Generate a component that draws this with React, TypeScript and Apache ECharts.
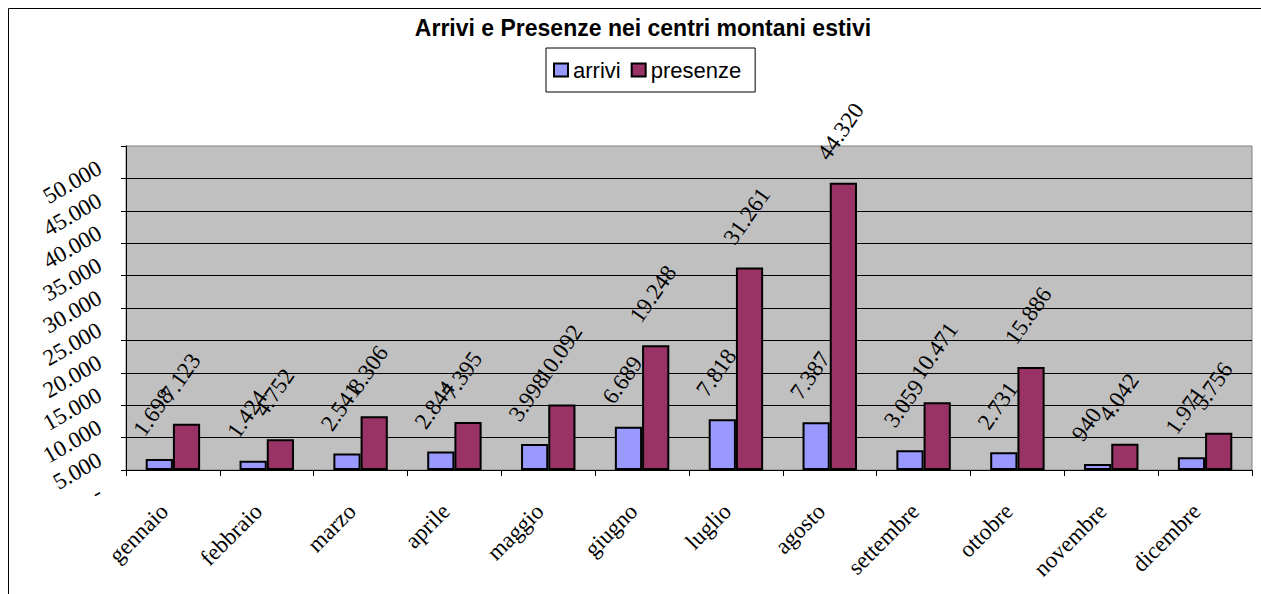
import React, { useEffect, useRef } from 'react';
import * as echarts from 'echarts';

const titleText = 'Arrivi e Presenze nei centri montani estivi';
const categories = ['gennaio', 'febbraio', 'marzo', 'aprile', 'maggio', 'giugno', 'luglio', 'agosto', 'settembre', 'ottobre', 'novembre', 'dicembre'];
const arrivi = [1698, 1424, 2541, 2844, 3998, 6689, 7818, 7387, 3059, 2731, 940, 1971];
const presenze = [7123, 4752, 8306, 7395, 10092, 19248, 31261, 44320, 10471, 15886, 4042, 5756];
const yMin = 0;
const yMax = 50000;
const yStep = 5000;

const fmt = (v: number) =>
  v === 0 ? '-' : String(Math.round(v)).replace(/\B(?=(\d{3})+(?!\d))/g, '.');

const serif = 'Liberation Serif, Times New Roman, serif';
const sans = 'Liberation Sans, Arial, sans-serif';

export default function App() {
  const ref = useRef<HTMLDivElement>(null);
  useEffect(() => {
    if (!ref.current) return;
    const chart = echarts.init(ref.current, undefined, { renderer: 'svg' });
    const labelCfg = {
      show: true,
      position: 'top',
      distance: 10.8,
      rotate: 55,
      align: 'left',
      verticalAlign: 'bottom',
      padding: [0, 0, 14, 0],
      formatter: (p: any) => fmt(p.value),
      fontFamily: serif,
      fontSize: 23,
      color: '#000',
    };
    chart.setOption({
      animation: false,
      backgroundColor: '#fff',
      title: {
        text: titleText,
        left: 643,
        top: 16,
        textAlign: 'center',
        padding: 0,
        textStyle: { fontFamily: sans, fontWeight: 'bold', fontSize: 23, color: '#000' },
      },
      legend: {
        data: ['arrivi', 'presenze'],
        left: 546,
        top: 48,
        orient: 'horizontal',
        padding: [11, 14, 11, 7],
        itemGap: 10,
        itemWidth: 14,
        itemHeight: 13,
        icon: 'rect',
        borderColor: '#000',
        borderWidth: 1,
        backgroundColor: '#fff',
        textStyle: { fontFamily: sans, fontSize: 22, color: '#000' },
      },
      graphic: [
        {
          type: 'rect',
          z: -1,
          silent: true,
          shape: { x: 8.5, y: 8.5, width: 3000, height: 3000 },
          style: { fill: 'none', stroke: '#000', lineWidth: 1 },
        },
      ],
      grid: {
        left: 126,
        right: 9,
        top: 146,
        bottom: 124,
        show: true,
        backgroundColor: '#C0C0C0',
        borderColor: '#808080',
        borderWidth: 1,
      },
      xAxis: {
        type: 'category',
        data: categories,
        axisLine: { lineStyle: { color: '#000', width: 1 } },
        axisTick: { show: true, length: 6, lineStyle: { color: '#000' } },
        axisLabel: {
          interval: 0,
          rotate: 45,
          margin: 29,
          padding: [0, 12, 0, 0],
          fontFamily: serif,
          fontSize: 23,
          color: '#000',
        },
        splitLine: { show: false },
      },
      yAxis: {
        type: 'value',
        min: yMin,
        max: yMax,
        interval: yStep,
        axisLine: { show: true, lineStyle: { color: '#000', width: 1 } },
        axisTick: { show: true, length: 5, lineStyle: { color: '#000' } },
        axisLabel: {
          rotate: 30,
          margin: 38,
          align: 'right',
          verticalAlign: 'top',
          padding: [12, 0, 0, 0],
          formatter: fmt,
          fontFamily: serif,
          fontSize: 23,
          color: '#000',
        },
        splitLine: { show: true, showMaxLine: false, lineStyle: { color: '#000', width: 1 } },
      },
      series: [
        {
          name: 'arrivi',
          type: 'bar',
          data: arrivi,
          barGap: '0%',
          barCategoryGap: '42%',
          itemStyle: { color: '#9999FF', borderColor: '#000', borderWidth: 2 },
          label: labelCfg,
        },
        {
          name: 'presenze',
          type: 'bar',
          data: presenze,
          barGap: '0%',
          barCategoryGap: '42%',
          itemStyle: { color: '#993366', borderColor: '#000', borderWidth: 2 },
          label: labelCfg,
        },
      ],
    });
    return () => chart.dispose();
  }, []);
  return (
    <div
      ref={ref}
      style={{ position: 'fixed', left: 0, top: 0, width: 1261, height: 594, overflow: 'hidden' }}
    />
  );
}
